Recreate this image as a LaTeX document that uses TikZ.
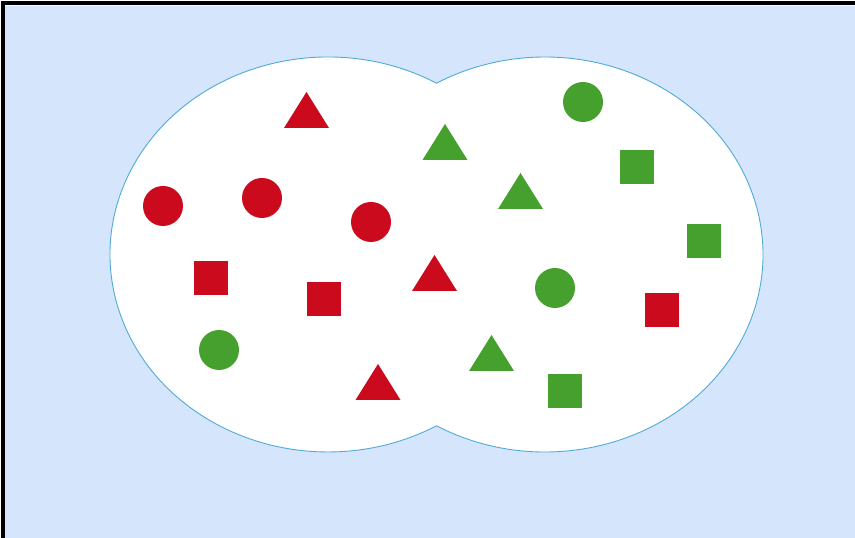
\documentclass[tikz,border=0pt]{standalone}
\definecolor{bgblue}{RGB}{213,230,252}
\definecolor{edgeblue}{RGB}{80,170,215}
\definecolor{shred}{RGB}{204,10,30}
\definecolor{shgreen}{RGB}{70,160,45}
\tikzset{
  dot/.style={circle, minimum size=40pt, inner sep=0pt, draw=none},
  sq/.style={rectangle, minimum size=34pt, inner sep=0pt, draw=none},
  tri/.pic={\fill (-22.5pt,-18pt) -- (0pt,18pt) -- (22.5pt,-18pt) -- cycle;}
}
\begin{document}
\begin{tikzpicture}[x=1pt,y=1pt]
\useasboundingbox (0,0) rectangle (855,538);
\fill[white] (0,0) rectangle (855,538);
\fill[bgblue] (5,0) rectangle (855,532);
\draw[black, line width=3.8pt] (3.1,0) -- (3.1,534.6) -- (855,534.6);
% union of two ellipses
\draw[edgeblue, line width=0.9pt, fill=white]
  (436.5,454.8)
  arc[start angle=60.15, end angle=299.85, x radius=218, y radius=197.5]
  arc[start angle=240.15, end angle=479.85, x radius=218, y radius=197.5]
  -- cycle;
% circles
\node[dot, fill=shred] (rc1) at (163,332) {};
\node[dot, fill=shred] (rc2) at (262,340) {};
\node[dot, fill=shred] (rc3) at (371,316) {};
\node[dot, fill=shgreen] (gc1) at (583,436) {};
\node[dot, fill=shgreen] (gc2) at (219,188) {};
\node[dot, fill=shgreen] (gc3) at (555,250) {};
% squares
\node[sq, fill=shred] (rs1) at (210.5,260) {};
\node[sq, fill=shred] (rs2) at (324,239) {};
\node[sq, fill=shred] (rs3) at (662,228) {};
\node[sq, fill=shgreen] (gs1) at (637,370.5) {};
\node[sq, fill=shgreen] (gs2) at (704,296.5) {};
\node[sq, fill=shgreen] (gs3) at (565,147) {};
% triangles
\pic[shred] at (306.5,428) {tri};
\pic[shred] at (434.5,265) {tri};
\pic[shred] at (378,156) {tri};
\pic[shgreen] at (445,396) {tri};
\pic[shgreen] at (520.5,347) {tri};
\pic[shgreen] at (491.5,185) {tri};
\end{tikzpicture}
\end{document}
